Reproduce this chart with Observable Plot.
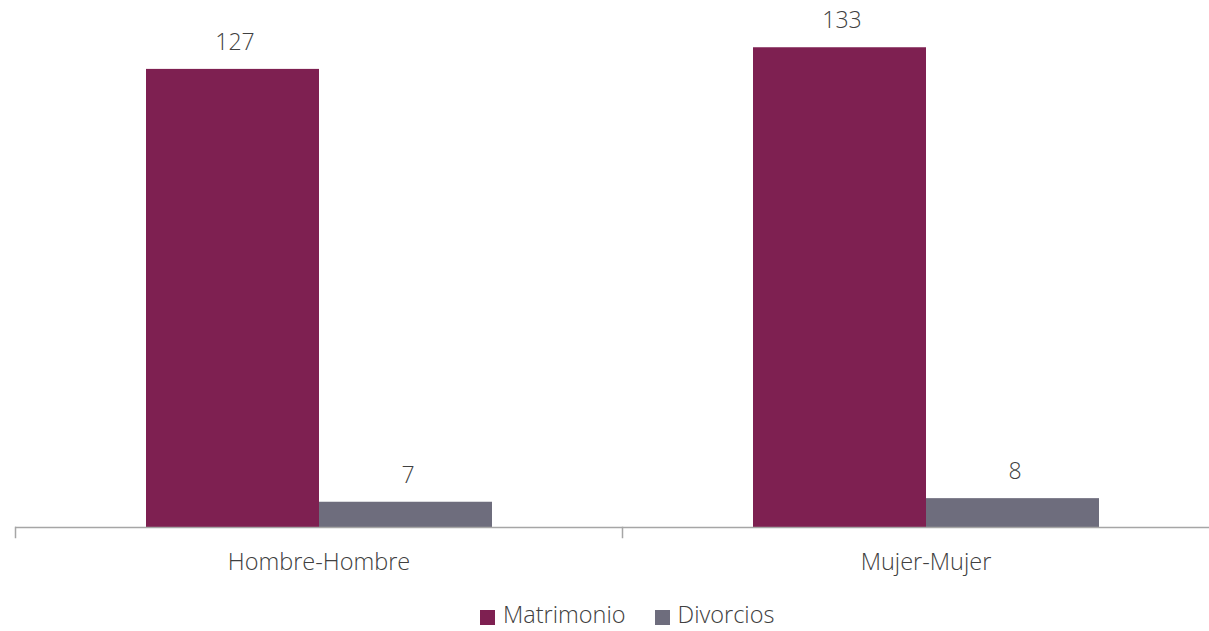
<!DOCTYPE html>
<html>
<head>
<meta charset="utf-8">
<script src="https://cdn.jsdelivr.net/npm/d3@7"></script>
<script src="https://cdn.jsdelivr.net/npm/@observablehq/plot@0.6"></script>
<style>
  html, body { margin: 0; padding: 0; background: #fff; overflow: hidden; }
  body { width: 1209px; height: 631px; font-family: "Open Sans", sans-serif; }
  #legend { display: flex; align-items: center; margin-top: 8px; padding-left: 480px;
            font-family: "Open Sans", sans-serif; font-weight: 300; font-size: 23.5px; line-height: normal; color: #404040; }
  #legend .item { display: flex; align-items: center; margin-right: 29px; }
  #legend .sw { width: 15px; height: 15px; margin-right: 8px; margin-top: 7px; }
</style>
</head>
<body>
<div id="chart"></div>
<div id="legend"></div>
<script>
const categories = ["Hombre-Hombre", "Mujer-Mujer"];
const series = ["Matrimonio", "Divorcios"];
const matrimonio = [127, 133];
const divorcios = [7, 8];
const colors = ["#7E2051", "#6E6D7D"];

const data = [];
categories.forEach((c, i) => {
  data.push({cat: c, series: series[0], value: matrimonio[i]});
  data.push({cat: c, series: series[1], value: divorcios[i]});
});

const W = 1209, H = 590, mT = 22, mB = 63;
const axisColor = "#A6A6A6";

const plot = Plot.plot({
  width: W,
  height: H,
  marginTop: mT,
  marginBottom: mB,
  marginLeft: 15,
  marginRight: 0,
  style: {fontFamily: "Open Sans, sans-serif", fontWeight: 300, color: "#404040", background: "white"},
  fx: {domain: categories, range: [15, 1229], padding: 0, label: null},
  x: {domain: series, paddingInner: 0, paddingOuter: 0.754, axis: null},
  y: {domain: [0, 140], axis: null},
  color: {domain: series, range: colors},
  marks: [
    Plot.barY(data, {fx: "cat", x: "series", y: "value", fill: "series"}),
    Plot.ruleY([0], {stroke: axisColor, strokeWidth: 1.5}),
    Plot.frame({anchor: "left", stroke: axisColor, strokeWidth: 1.5, insetTop: H - mT - mB, insetBottom: -10}),
    Plot.text(data, {fx: "cat", x: "series", y: "value", text: d => String(d.value), dy: -27, dx: 2, fontSize: 23, fontWeight: 300, fill: "#404040"}),
    Plot.axisFx({anchor: "bottom", tickSize: 0, tickPadding: 26, fontSize: 23.5, fontWeight: 300, label: null, fill: "#404040"})
  ]
});
document.getElementById("chart").appendChild(plot);

const lg = document.getElementById("legend");
series.forEach((s, i) => {
  const item = document.createElement("div");
  item.className = "item";
  const sw = document.createElement("div");
  sw.className = "sw";
  sw.style.background = colors[i];
  const t = document.createElement("span");
  t.textContent = s;
  item.appendChild(sw);
  item.appendChild(t);
  lg.appendChild(item);
});
</script>
</body>
</html>
